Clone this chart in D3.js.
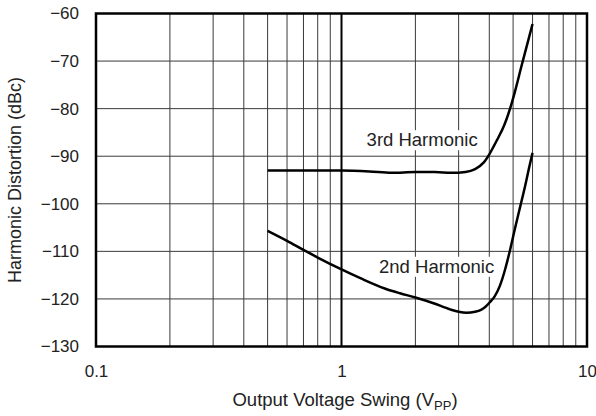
<!DOCTYPE html>
<html>
<head>
<meta charset="utf-8">
<script src="https://cdn.jsdelivr.net/npm/d3@7"></script>
<style>
  html, body { margin: 0; padding: 0; background: #fff; overflow: hidden; }
  svg { display: block; }
  text { font-family: "Liberation Sans", Arial, Helvetica, sans-serif; fill: #222; }
</style>
</head>
<body>
<svg id="chart" width="596" height="416"></svg>
<script>
// Output voltage swing (Vpp) and distortion (dBc) for each harmonic
const thirdVpp = [0.5, 0.7, 1.0, 1.3, 1.6, 2.0, 2.4, 2.8, 3.2, 3.5, 3.8, 4.0, 4.3, 4.6, 4.86, 5.1, 5.4, 5.7, 6.0];
const thirdDbc = [-93.0, -93.0, -93.0, -93.2, -93.5, -93.3, -93.3, -93.5, -93.3, -92.7, -91.3, -89.6, -86.6, -83.5, -80.0, -76.2, -71.2, -66.6, -62.2];

const secondVpp = [0.5, 0.6, 0.7, 0.8, 1.0, 1.2, 1.5, 1.73, 2.0, 2.37, 2.77, 3.0, 3.23, 3.5, 3.7, 3.85, 4.02, 4.2, 4.42, 4.65, 4.86, 5.1, 5.35, 5.6, 5.8, 6.0];
const secondDbc = [-105.7, -107.8, -109.7, -111.3, -113.8, -115.7, -117.8, -118.8, -119.7, -120.9, -122.2, -122.7, -122.9, -122.7, -122.3, -121.7, -120.7, -119.5, -117.2, -113.6, -109.7, -105.0, -100.5, -96.2, -92.6, -89.3];

const xTicks = [0.1, 1, 10];
const xTickLabels = ["0.1", "1", "10"];
const yTicks = [-130, -120, -110, -100, -90, -80, -70, -60];

const seriesLabels = [
  { text: "3rd Harmonic", vpp: 2.13, dbc: -87.9 },
  { text: "2nd Harmonic", vpp: 2.44, dbc: -114.5 }
];

const svg = d3.select("#chart");
const margin = { left: 96, right: 9, top: 13.5, bottom: 69.5 };
const W = 596, H = 416;

const x = d3.scaleLog().domain([0.1, 10]).range([margin.left, W - margin.right]);
const y = d3.scaleLinear().domain([-130, -60]).range([H - margin.bottom, margin.top]);

// grid: minor decade lines
const minor = [];
[0.1, 1].forEach(d => { for (let k = 2; k <= 9; k++) minor.push(+(d * k).toFixed(3)); });

const grid = svg.append("g");
grid.selectAll("line.v").data(minor).join("line")
  .attr("x1", d => x(d)).attr("x2", d => x(d))
  .attr("y1", y(-130)).attr("y2", y(-60))
  .attr("stroke", "#3a3a3a").attr("stroke-width", 1);
grid.selectAll("line.h").data(yTicks.slice(1, -1)).join("line")
  .attr("x1", x(0.1)).attr("x2", x(10))
  .attr("y1", d => y(d)).attr("y2", d => y(d))
  .attr("stroke", "#3a3a3a").attr("stroke-width", 1);
// decade line at 1 Vpp
grid.append("line")
  .attr("x1", x(1)).attr("x2", x(1))
  .attr("y1", y(-130)).attr("y2", y(-60))
  .attr("stroke", "#000").attr("stroke-width", 2);

// curves
const line = d3.line().x(d => x(d[0])).y(d => y(d[1])).curve(d3.curveMonotoneX);
const curves = [
  d3.zip(thirdVpp, thirdDbc),
  d3.zip(secondVpp, secondDbc)
];
svg.append("g").selectAll("path").data(curves).join("path")
  .attr("d", line)
  .attr("fill", "none").attr("stroke", "#000")
  .attr("stroke-width", 2.5).attr("stroke-linejoin", "round").attr("stroke-linecap", "butt");

// series labels with white backing
const lab = svg.append("g").selectAll("g").data(seriesLabels).join("g");
lab.append("text")
  .attr("x", d => x(d.vpp)).attr("y", d => y(d.dbc))
  .attr("text-anchor", "middle")
  .attr("font-size", 18.5)
  .text(d => d.text)
  .each(function () {
    const b = this.getBBox();
    d3.select(this.parentNode).insert("rect", "text")
      .attr("x", b.x - 3).attr("y", b.y + 1)
      .attr("width", b.width + 6).attr("height", b.height - 1)
      .attr("fill", "#fff");
  });

// frame
svg.append("rect")
  .attr("x", x(0.1)).attr("y", y(-60))
  .attr("width", x(10) - x(0.1)).attr("height", y(-130) - y(-60))
  .attr("fill", "none").attr("stroke", "#000").attr("stroke-width", 2.5);

// axes
const yAxis = d3.axisLeft(y).tickValues(yTicks).tickSize(0).tickPadding(17)
  .tickFormat(d => d3.format("d")(d).replace("-", "\u2212"));
const gy = svg.append("g").attr("transform", `translate(${margin.left},0)`).call(yAxis);
gy.select(".domain").remove();
gy.selectAll("text").attr("font-size", 17).attr("fill", "#222")
  .attr("font-family", "Liberation Sans, Arial, sans-serif");

const xAxis = d3.axisBottom(x).tickValues(xTicks).tickSize(0).tickPadding(18)
  .tickFormat((d, i) => xTickLabels[i]);
const gx = svg.append("g").attr("transform", `translate(0,${H - margin.bottom})`).call(xAxis);
gx.select(".domain").remove();
gx.selectAll("text").attr("font-size", 17).attr("fill", "#222")
  .attr("font-family", "Liberation Sans, Arial, sans-serif");

// axis titles
const xt = svg.append("text")
  .attr("x", 345).attr("y", 406)
  .attr("text-anchor", "middle").attr("font-size", 18.5);
xt.append("tspan").text("Output Voltage Swing (V");
xt.append("tspan").attr("font-size", 13).attr("dy", 4).text("PP");
xt.append("tspan").attr("dy", -4).text(")");

svg.append("text")
  .attr("transform", `translate(21,${(y(-60) + y(-130)) / 2}) rotate(-90)`)
  .attr("text-anchor", "middle").attr("font-size", 18)
  .text("Harmonic Distortion (dBc)");
</script>
</body>
</html>
